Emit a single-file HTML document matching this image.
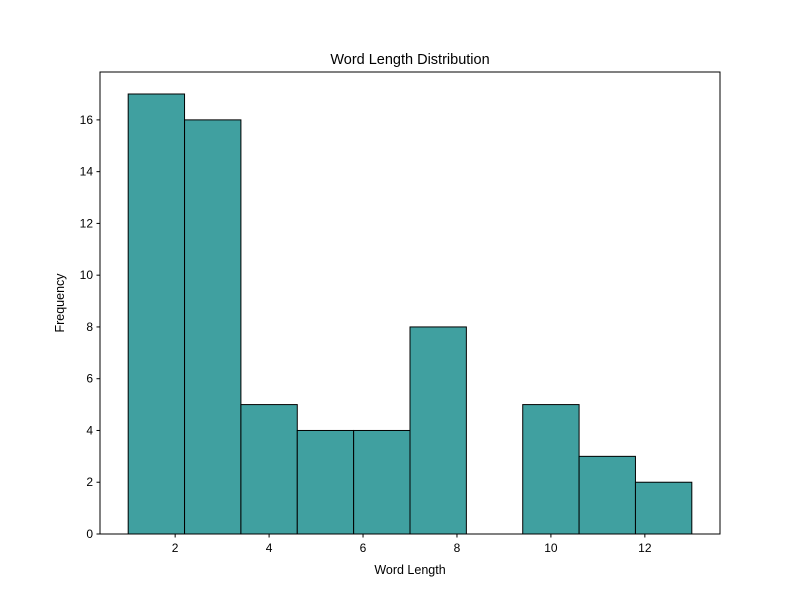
<!DOCTYPE html>
<html><head><meta charset="utf-8"><style>body{margin:0;background:#fff}svg{display:block;font-family:"Liberation Sans","DejaVu Sans",sans-serif}</style></head>
<body>
<svg id="chart" width="800" height="600" viewBox="0 0 800 600"></svg>
<script>
const binEdges = [1, 2.2, 3.4, 4.6, 5.8, 7, 8.2, 9.4, 10.6, 11.8, 13];
const counts = [17, 16, 5, 4, 4, 8, 0, 5, 3, 2];
const xTicks = [2, 4, 6, 8, 10, 12];
const yTicks = [0, 2, 4, 6, 8, 10, 12, 14, 16];
const L=100,R=720,T=72,B=534;
const xMin=0.4,xMax=13.6,yMax=17.85;
const sx=v=>L+(v-xMin)/(xMax-xMin)*(R-L);
const sy=v=>B-v/yMax*(B-T);
const svg=document.getElementById('chart');
const NS='http://www.w3.org/2000/svg';
function mk(tag,attrs,parent){const e=document.createElementNS(NS,tag);for(const k in attrs)e.setAttribute(k,attrs[k]);(parent||svg).appendChild(e);return e;}
const bars=mk('g',{});


counts.forEach((c,i)=>{
  if(c<=0)return;
  const x0=sx(binEdges[i]),x1=sx(binEdges[i+1]);
  const r=mk('rect',{x:x0,y:sy(c),width:x1-x0,height:sy(0)-sy(c),fill:'#40a0a0',stroke:'#000','stroke-width':1},bars);
  
  
});
const frame=mk('rect',{x:L,y:T,width:R-L,height:B-T,fill:'none',stroke:'#000','stroke-width':1});


xTicks.forEach(v=>{
  const x=sx(v);
  mk('line',{x1:x,x2:x,y1:B,y2:B+3.5,stroke:'#000'});
  const t=mk('text',{x:x,y:B+18,'text-anchor':'middle','font-size':12});
  t.textContent=v;
  
  
});
yTicks.forEach(v=>{
  const y=sy(v);
  mk('line',{x1:L-3.5,x2:L,y1:y,y2:y,stroke:'#000'});
  const t=mk('text',{x:L-7,y:y+4,'text-anchor':'end','font-size':12});
  t.textContent=v;
  
  
});
const title=mk('text',{x:410,y:64,'text-anchor':'middle','font-size':14.5});
title.textContent='Word Length Distribution';


const xl=mk('text',{x:410,y:574,'text-anchor':'middle','font-size':12.5});
xl.textContent='Word Length';


const yl=mk('text',{x:64,y:303,'text-anchor':'middle','font-size':12.5,transform:'rotate(-90 64 303)'});
yl.textContent='Frequency';


</script>
</body></html>
